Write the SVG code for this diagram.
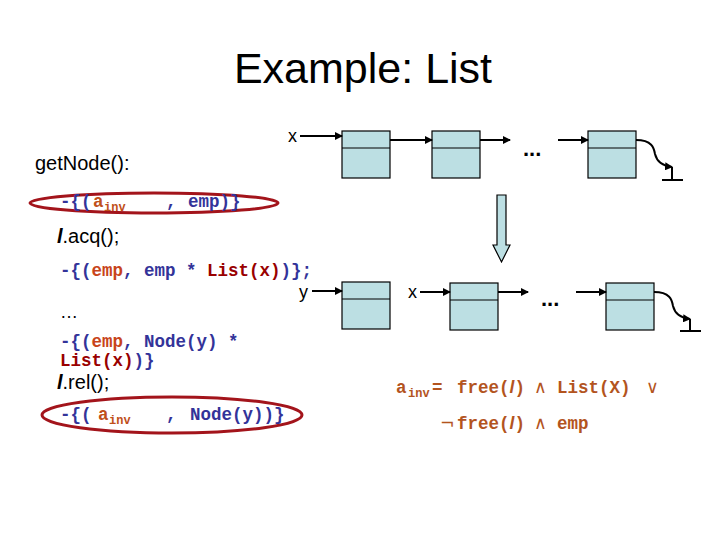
<svg xmlns="http://www.w3.org/2000/svg" width="720" height="540" viewBox="0 0 720 540">
<defs>
<style>
.t{font-family:"Liberation Sans",Arial,sans-serif;fill:#000}
.m{font-family:"Liberation Mono","Courier New",monospace;font-weight:bold;font-size:17.5px}
.b{fill:#333399}.r{fill:#C8441A}.d{fill:#990000}.o{fill:#C0501A}.f{fill:#B3541E}
.sub{font-size:12px}
.box{fill:#BCDFE3;stroke:#000;stroke-width:1.2}
.ln{stroke:#000;stroke-width:2;fill:none}
.ell{fill:none;stroke:#A3141B;stroke-width:3}
</style>
<marker id="ah" markerWidth="8" markerHeight="8" refX="7" refY="4" orient="auto" markerUnits="userSpaceOnUse">
<path d="M0,0 L8,4 L0,8 z" fill="#000"/>
</marker>
</defs>
<rect width="720" height="540" fill="#fff"/>
<text class="t" x="363" y="83" font-size="43" text-anchor="middle">Example: List</text>

<g id="code">
<text class="t" x="35" y="170" font-size="20">getNode():</text>
<ellipse class="ell" cx="154" cy="203" rx="124" ry="10"/>
<text class="m" y="207"><tspan class="b" x="60">-{(</tspan><tspan class="o" x="93">a</tspan><tspan class="o sub" x="104" dy="4">inv</tspan><tspan class="b" x="166" dy="-4">,</tspan><tspan class="b" x="188">emp)}</tspan></text>
<text class="t" x="57" y="243" font-size="20"><tspan font-style="italic" font-weight="bold">l</tspan>.acq();</text>
<text class="m" y="276"><tspan class="b" x="60">-{(</tspan><tspan class="r">emp</tspan><tspan class="b">, emp * </tspan><tspan class="d">List(x)</tspan><tspan class="b">)};</tspan></text>
<text class="t" x="60" y="318" font-size="18">…</text>
<text class="m" y="347"><tspan class="b" x="60">-{(</tspan><tspan class="r">emp</tspan><tspan class="b">, Node(y) *</tspan></text>
<text class="m" y="366"><tspan class="d" x="60">List(x)</tspan><tspan class="b">)}</tspan></text>
<text class="t" x="57" y="389" font-size="20"><tspan font-style="italic" font-weight="bold">l</tspan>.rel();</text>
<ellipse class="ell" cx="172" cy="415" rx="130" ry="18"/>
<text class="m" y="420"><tspan class="b" x="60">-{(</tspan><tspan class="o" x="98">a</tspan><tspan class="o sub" x="109" dy="4">inv</tspan><tspan class="b" x="166" dy="-4">,</tspan><tspan class="b" x="190">Node(y))}</tspan></text>
</g>

<g id="formula">
<text class="m f" y="393"><tspan x="396">a</tspan><tspan class="sub" x="408" dy="4">inv</tspan><tspan x="432" dy="-4">=</tspan><tspan x="457">free(</tspan><tspan font-family="Liberation Sans,Arial,sans-serif" font-style="italic">l</tspan><tspan>)</tspan><tspan x="534" font-family="DejaVu Sans,sans-serif" font-weight="normal">∧</tspan><tspan x="557">List(X)</tspan><tspan x="646" font-family="DejaVu Sans,sans-serif" font-weight="normal">∨</tspan></text>
<text class="m f" y="429"><tspan x="440" font-family="DejaVu Sans,sans-serif" font-weight="normal">¬</tspan><tspan x="457">free(</tspan><tspan font-family="Liberation Sans,Arial,sans-serif" font-style="italic">l</tspan><tspan>)</tspan><tspan x="534" font-family="DejaVu Sans,sans-serif" font-weight="normal">∧</tspan><tspan x="557">emp</tspan></text>
</g>

<g id="list1">
<g id="n1"><rect class="box" x="342" y="131" width="48" height="47"/><line x1="342" y1="148" x2="390" y2="148" stroke="#000"/></g>
<g id="n2"><rect class="box" x="432" y="131" width="48" height="47"/><line x1="432" y1="148" x2="480" y2="148" stroke="#000"/></g>
<g id="n3"><rect class="box" x="588" y="131" width="48" height="47"/><line x1="588" y1="148" x2="636" y2="148" stroke="#000"/></g>
<text class="t" x="288" y="142" font-size="18">x</text>
<text class="t" x="523" y="156" font-size="22" font-weight="bold">...</text>
</g>

<g id="list2">
<g id="m1"><rect class="box" x="342" y="282" width="48" height="47"/><line x1="342" y1="299" x2="390" y2="299" stroke="#000"/></g>
<g id="m2"><rect class="box" x="450" y="283" width="48" height="47"/><line x1="450" y1="300" x2="498" y2="300" stroke="#000"/></g>
<g id="m3"><rect class="box" x="606" y="283" width="48" height="47"/><line x1="606" y1="300" x2="654" y2="300" stroke="#000"/></g>
<text class="t" x="299" y="298" font-size="18">y</text>
<text class="t" x="408" y="298" font-size="18">x</text>
<text class="t" x="541" y="306" font-size="22" font-weight="bold">...</text>
</g>

<g id="transition">
<polygon points="497,195 506,195 506,245 510,245 501.5,262 493,245 497,245" fill="#BCDFE3" stroke="#000" stroke-width="1.2"/>
</g>

<g id="connectors">
<line class="ln" x1="300" y1="136" x2="342" y2="136" marker-end="url(#ah)"/>
<line class="ln" x1="390" y1="140" x2="432" y2="140" marker-end="url(#ah)"/>
<line class="ln" x1="480" y1="140" x2="510" y2="140" marker-end="url(#ah)"/>
<line class="ln" x1="558" y1="140" x2="588" y2="140" marker-end="url(#ah)"/>
<path class="ln" d="M636,140 C652,140 654,148 655,154 C657,162 662,166 672,167" marker-end="url(#ah)"/>
<path class="ln" d="M672,167 L672,180 M662,180 L683,180"/>

<line class="ln" x1="312" y1="291" x2="342" y2="291" marker-end="url(#ah)"/>
<line class="ln" x1="420" y1="292" x2="450" y2="292" marker-end="url(#ah)"/>
<line class="ln" x1="498" y1="292" x2="528" y2="292" marker-end="url(#ah)"/>
<line class="ln" x1="576" y1="292" x2="606" y2="292" marker-end="url(#ah)"/>
<path class="ln" d="M654,292 C670,292 672,300 673,306 C675,314 680,318 690,319" marker-end="url(#ah)"/>
<path class="ln" d="M690,319 L690,331 M680,331 L701,331"/>
</g>
</svg>
